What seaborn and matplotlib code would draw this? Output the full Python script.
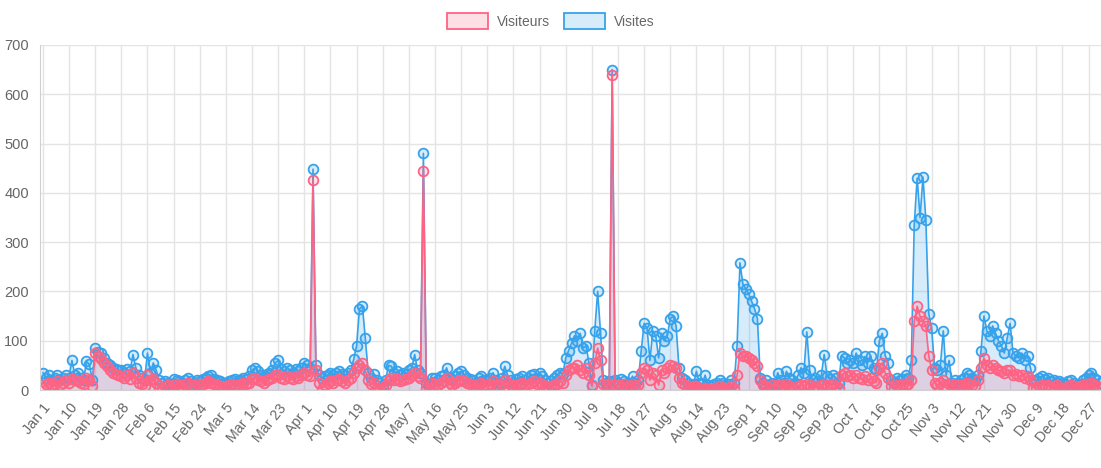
"""Daily visits vs visitors over one year (Chart.js-style line chart)."""

import matplotlib

matplotlib.use("Agg")
import matplotlib.pyplot as plt
import numpy as np
import pandas as pd
import seaborn as sns
from matplotlib.patches import Patch

# one label per day, non-leap year
days = pd.date_range("2019-01-01", "2019-12-31", freq="D")
day_labels = [f"{d:%b} {d.day}" for d in days]

# values, one row per 9-day tick interval
visites = [
    35, 25, 30, 20, 25, 30, 20, 25, 30,
    25, 60, 30, 35, 25, 20, 58, 52, 20,
    85, 78, 75, 65, 55, 50, 45, 42, 40,
    40, 35, 42, 38, 72, 45, 30, 25, 20,
    75, 35, 55, 40, 20, 15, 18, 15, 12,
    22, 20, 18, 15, 20, 25, 18, 15, 20,
    18, 22, 25, 28, 30, 22, 20, 18, 15,
    15, 18, 20, 22, 18, 20, 25, 22, 28,
    40, 45, 38, 30, 28, 32, 35, 40, 55,
    60, 42, 38, 45, 40, 35, 42, 38, 45,
    55, 50, 45, 448, 50, 30, 25, 28, 30,
    35, 30, 35, 38, 32, 30, 35, 40, 62,
    90, 165, 170, 105, 35, 25, 32, 20, 15,
    10, 20, 50, 48, 35, 38, 30, 35, 32,
    40, 45, 72, 40, 35, 480, 15, 12, 25,
    25, 20, 28, 30, 45, 25, 20, 28, 35,
    38, 30, 25, 22, 20, 15, 25, 28, 20,
    20, 25, 35, 20, 15, 25, 48, 30, 20,
    15, 22, 25, 28, 20, 25, 30, 32, 25,
    35, 28, 20, 15, 18, 25, 30, 35, 32,
    65, 80, 95, 110, 100, 115, 85, 90, 55,
    10, 120, 200, 115, 20, 15, 18, 650, 20,
    15, 22, 18, 12, 15, 28, 15, 20, 80,
    135, 125, 60, 120, 110, 65, 115, 100, 110,
    145, 150, 130, 45, 25, 20, 15, 10, 12,
    38, 15, 12, 30, 10, 8, 12, 15, 20,
    15, 10, 12, 20, 15, 90, 258, 215, 205,
    195, 180, 165, 145, 25, 15, 20, 10, 15,
    12, 35, 20, 15, 38, 25, 20, 15, 30,
    45, 35, 118, 40, 20, 25, 18, 30, 72,
    28, 22, 30, 25, 15, 70, 65, 55, 60,
    55, 75, 60, 50, 68, 55, 70, 45, 40,
    100, 115, 70, 55, 20, 15, 25, 20, 22,
    30, 25, 60, 335, 430, 350, 432, 345, 155,
    125, 45, 40, 50, 120, 30, 60, 15, 20,
    15, 20, 25, 35, 30, 25, 20, 30, 80,
    150, 120, 110, 130, 115, 100, 90, 75, 105,
    135, 75, 70, 65, 75, 60, 70, 45, 20,
    20, 25, 28, 22, 25, 18, 20, 15, 18,
    15, 12, 18, 20, 15, 10, 12, 20, 25,
    30, 35, 25, 20, 15,
]

visiteurs = [
    5, 12, 15, 10, 12, 18, 10, 15, 20,
    15, 22, 20, 18, 15, 12, 25, 20, 8,
    75, 70, 62, 55, 48, 40, 35, 32, 30,
    28, 25, 30, 22, 35, 25, 15, 12, 8,
    30, 20, 22, 15, 5, 3, 8, 10, 5,
    10, 12, 8, 5, 12, 15, 10, 8, 12,
    10, 12, 15, 18, 15, 12, 10, 8, 5,
    8, 10, 12, 10, 8, 12, 15, 12, 15,
    22, 25, 20, 18, 15, 20, 22, 25, 30,
    30, 25, 22, 28, 25, 22, 28, 25, 30,
    35, 30, 28, 427, 40, 15, 3, 10, 15,
    18, 15, 20, 22, 18, 15, 20, 25, 35,
    45, 50, 55, 40, 20, 12, 15, 5, 3,
    3, 10, 20, 25, 20, 22, 18, 20, 22,
    25, 30, 35, 28, 25, 445, 5, 3, 15,
    12, 10, 15, 18, 25, 15, 10, 15, 18,
    20, 18, 15, 12, 10, 5, 12, 15, 10,
    10, 12, 18, 10, 8, 12, 20, 15, 10,
    8, 10, 12, 15, 10, 12, 15, 18, 12,
    15, 12, 8, 5, 8, 10, 12, 18, 15,
    30, 40, 45, 45, 50, 40, 35, 45, 30,
    8, 55, 85, 60, 12, 10, 12, 640, 10,
    10, 8, 12, 5, 8, 12, 8, 10, 35,
    45, 40, 20, 35, 30, 10, 40, 35, 45,
    50, 48, 45, 25, 15, 10, 8, 5, 8,
    8, 5, 3, 5, 2, 0, 5, 3, 8,
    5, 3, 5, 8, 5, 30, 75, 70, 68,
    65, 60, 55, 48, 20, 10, 8, 5, 10,
    5, 10, 8, 5, 12, 8, 5, 3, 8,
    10, 8, 12, 10, 5, 8, 5, 10, 12,
    8, 10, 12, 8, 5, 30, 35, 28, 30,
    25, 30, 25, 22, 28, 20, 25, 18, 15,
    45, 55, 35, 25, 8, 5, 10, 8, 12,
    10, 12, 20, 140, 170, 150, 140, 130, 70,
    40, 15, 10, 15, 20, 8, 12, 5, 10,
    8, 10, 12, 15, 12, 10, 8, 20, 45,
    65, 50, 45, 50, 45, 40, 38, 35, 40,
    40, 30, 32, 28, 30, 25, 28, 20, 5,
    5, 8, 10, 8, 10, 5, 8, 10, 5,
    5, 3, 8, 10, 8, 5, 8, 10, 12,
    12, 15, 10, 8, 5,
]

y_ticks = [0, 100, 200, 300, 400, 500, 600, 700]
tick_step = 9

BLUE = (54 / 255, 162 / 255, 235 / 255)
PINK = (255 / 255, 99 / 255, 132 / 255)
TEXT = "#666666"
GRID = "#e4e4e4"

df = pd.DataFrame({"day": np.arange(len(days)), "Visites": visites, "Visiteurs": visiteurs})

sns.set_style("white")
plt.rcParams["font.family"] = ["Liberation Sans", "DejaVu Sans"]

fig = plt.figure(figsize=(11.01, 4.68), dpi=100)
ax = fig.add_axes([40 / 1101, 78 / 468, 1061 / 1101, 345 / 468])

# Visites first so the Visiteurs series sits on top, as in Chart.js
for col, color in [("Visites", BLUE), ("Visiteurs", PINK)]:
    ax.fill_between(df["day"], df[col], color=color, alpha=0.2, lw=0)
    sns.lineplot(
        data=df, x="day", y=col, ax=ax, color=color, lw=1.2,
        marker="o", markersize=7, markerfacecolor=(*color, 0.2),
        markeredgecolor=color, markeredgewidth=1.3,
    )

ax.set_xlim(-1, 364.3)
ax.set_ylim(0, 700)
ax.set_yticks(y_ticks)
ax.set_yticklabels([str(v) for v in y_ticks])
xt = np.arange(0, len(days), tick_step)
ax.set_xticks(xt)
ax.set_xticklabels([day_labels[i] for i in xt], rotation=51, ha="right", rotation_mode="anchor")
ax.set_xlabel("")
ax.set_ylabel("")

ax.grid(True, color=GRID, lw=1)
for side in ["top", "right"]:
    ax.spines[side].set_visible(False)
for side in ["left", "bottom"]:
    ax.spines[side].set_color("#d0d0d0")
ax.tick_params(axis="both", length=6, color=GRID, labelcolor=TEXT, pad=2)
ax.tick_params(axis="y", labelsize=10.5)
ax.tick_params(axis="x", labelsize=10.3)

handles = [
    Patch(facecolor=(*PINK, 0.2), edgecolor=PINK, lw=1.3, label="Visiteurs"),
    Patch(facecolor=(*BLUE, 0.2), edgecolor=BLUE, lw=1.3, label="Visites"),
]
leg = fig.legend(
    handles=handles, loc="upper center", bbox_to_anchor=(0.5, 1.0), ncol=2,
    frameon=False, fontsize=10, handlelength=3.0, handleheight=1.5,
    columnspacing=1.0, handletextpad=0.6,
)
for t in leg.get_texts():
    t.set_color(TEXT)

fig.savefig("out.png", dpi=100)
